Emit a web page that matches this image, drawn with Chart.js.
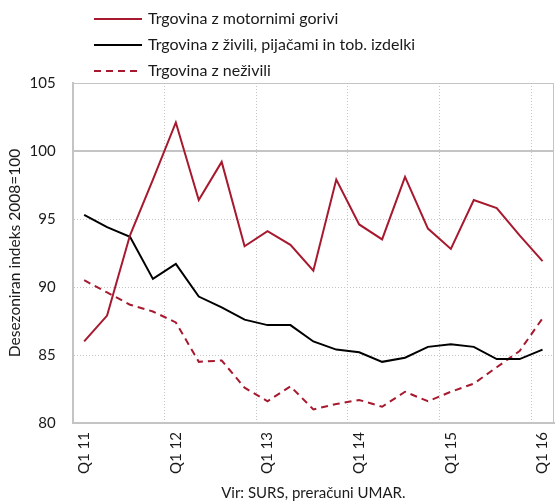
<!DOCTYPE html>
<html>
<head>
<meta charset="utf-8">
<script src="https://cdn.jsdelivr.net/npm/chart.js@4/dist/chart.umd.min.js"></script>
<style>
  html, body { margin: 0; padding: 0; background: #fff; }
  #wrap { width: 555px; height: 504px; position: relative; }
</style>
</head>
<body>
<div id="wrap"><canvas id="chart" width="555" height="504"></canvas></div>
<script>
// ========== data ==========
const quarters = [
  "Q1 11", "Q2 11", "Q3 11", "Q4 11",
  "Q1 12", "Q2 12", "Q3 12", "Q4 12",
  "Q1 13", "Q2 13", "Q3 13", "Q4 13",
  "Q1 14", "Q2 14", "Q3 14", "Q4 14",
  "Q1 15", "Q2 15", "Q3 15", "Q4 15",
  "Q1 16",
];
const motorFuels = [
  86.0, 87.9, 93.8, 97.9, 102.1, 96.4, 99.2, 93.0, 94.1, 93.1, 91.2,
  97.9, 94.6, 93.5, 98.1, 94.3, 92.8, 96.4, 95.8, 93.8, 91.9,
];
const foodDrinkTobacco = [
  95.3, 94.4, 93.7, 90.6, 91.7, 89.3, 88.5, 87.6, 87.2, 87.2, 86.0,
  85.4, 85.2, 84.5, 84.8, 85.6, 85.8, 85.6, 84.7, 84.7, 85.4,
];
const nonFood = [
  90.5, 89.6, 88.7, 88.2, 87.4, 84.5, 84.6, 82.6, 81.6, 82.7, 81.0,
  81.4, 81.7, 81.2, 82.3, 81.6, 82.3, 82.9, 84.1, 85.3, 87.7,
];
const yTicks = [80, 85, 90, 95, 100, 105];

// ========== style ==========
const RED = "#a6192e";
const GRID = "#c4c4c4";
const TEXT = "#1a1a1a";
const FONT = "Lato, 'Open Sans', sans-serif";

// legend drawn in the top padding, lines + labels stacked
const lineLegend = {
  id: "lineLegend",
  afterDraw(chart) {
    const ctx = chart.ctx;
    ctx.save();
    ctx.font = "16px " + FONT;
    ctx.textBaseline = "middle";
    chart.data.datasets.forEach((ds, i) => {
      const y = 19 + i * 26;
      ctx.strokeStyle = ds.borderColor;
      ctx.lineWidth = 2;
      ctx.setLineDash(ds.borderDash || []);
      ctx.beginPath();
      ctx.moveTo(94, y);
      ctx.lineTo(142, y);
      ctx.stroke();
      ctx.setLineDash([]);
      ctx.fillStyle = TEXT;
      ctx.fillText(ds.label, 148, y);
    });
    ctx.restore();
  },
};

// solid 100 line and the top/right frame edges
const frame = {
  id: "frame",
  beforeDatasetsDraw(chart) {
    const { ctx, chartArea: a, scales } = chart;
    ctx.save();
    ctx.strokeStyle = GRID;
    ctx.lineWidth = 2;
    const y100 = scales.y.getPixelForValue(100);
    ctx.beginPath();
    ctx.moveTo(a.left, y100);
    ctx.lineTo(a.right, y100);
    ctx.stroke();
    ctx.lineWidth = 1;
    ctx.beginPath();
    ctx.moveTo(a.right - 0.5, a.top);
    ctx.lineTo(a.right - 0.5, a.bottom);
    ctx.moveTo(a.left, a.top + 0.5);
    ctx.lineTo(a.right, a.top + 0.5);
    ctx.stroke();
    ctx.restore();
  },
};

const chart = new Chart(document.getElementById("chart"), {
  type: "line",
  data: {
    labels: quarters,
    datasets: [
      {
        label: "Trgovina z motornimi gorivi",
        data: motorFuels,
        borderColor: RED,
        borderWidth: 2,
      },
      {
        label: "Trgovina z živili, pijačami in tob. izdelki",
        data: foodDrinkTobacco,
        borderColor: "#000000",
        borderWidth: 2,
      },
      {
        label: "Trgovina z neživili",
        data: nonFood,
        borderColor: RED,
        borderWidth: 2,
        borderDash: [7, 5],
      },
    ],
  },
  options: {
    responsive: false,
    animation: false,
    events: [],
    elements: { point: { radius: 0 }, line: { tension: 0 } },
    layout: { padding: { top: 83, right: 1, bottom: 2, left: 0 } },
    plugins: { legend: { display: false }, tooltip: { enabled: false } },
    scales: {
      x: {
        offset: true,
        grid: {
          offset: true,
          drawTicks: true,
          tickLength: 9,
          tickColor: "transparent",
          color: (c) => (c.index > 0 && c.index % 4 === 0 ? GRID : "transparent"),
          lineWidth: 1,
        },
        border: { display: true, color: GRID, width: 2, dash: [1, 2] },
        ticks: {
          autoSkip: false,
          minRotation: 90,
          maxRotation: 90,
          padding: 0,
          color: TEXT,
          font: { family: FONT, size: 15, lineHeight: 0.8 },
          callback: (v, i) => (i % 4 === 0 ? quarters[i] : ""),
        },
        title: {
          display: true,
          text: "Vir: SURS, preračuni UMAR.",
          color: TEXT,
          font: { family: FONT, size: 15 },
          padding: { top: 10, bottom: 0 },
        },
      },
      y: {
        min: yTicks[0],
        max: yTicks[yTicks.length - 1],
        afterBuildTicks: (axis) => {
          axis.ticks = yTicks.map((v) => ({ value: v }));
        },
        grid: { drawTicks: false, color: GRID, lineWidth: 1 },
        border: { display: true, color: GRID, width: 2, dash: [1, 2] },
        ticks: {
          padding: 17,
          color: TEXT,
          font: { family: FONT, size: 15 },
        },
        title: {
          display: true,
          text: "Desezoniran indeks 2008=100",
          color: TEXT,
          font: { family: FONT, size: 15.5 },
          padding: { top: 6, bottom: -12 },
        },
      },
    },
  },
  plugins: [lineLegend, frame],
});
</script>
</body>
</html>
